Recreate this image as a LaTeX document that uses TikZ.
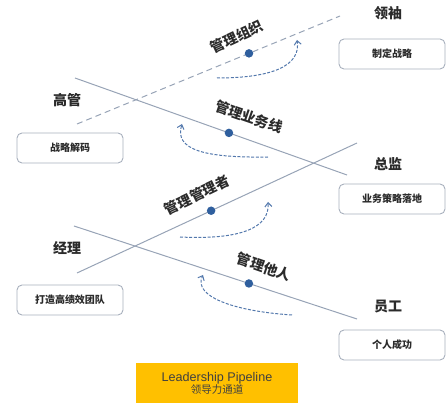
\documentclass[tikz,border=0pt]{standalone}
\usepackage{fontspec}
\setmainfont{Liberation Sans}
\newfontfamily\cjk{Noto Sans CJK SC}
\usetikzlibrary{arrows.meta}
\definecolor{linec}{HTML}{97A3B6}
\definecolor{dotc}{HTML}{2F5F9E}
\definecolor{arrc}{HTML}{5378AC}
\definecolor{boxc}{HTML}{A8B0BD}
\definecolor{txtc}{HTML}{2B2B2B}
\definecolor{goldc}{HTML}{FFC000}
\begin{document}
\begin{tikzpicture}[x=1pt,y=-1pt,
 lvl/.style={font=\cjk\bfseries\fontsize{14}{16}\selectfont, text=txtc, inner sep=0pt},
 tag/.style={font=\cjk\bfseries\fontsize{14}{16}\selectfont, text=txtc, inner sep=0pt},
 role/.style={draw=boxc, line width=0.9pt, rounded corners=5pt, minimum width=106pt, minimum height=30pt, font=\cjk\bfseries\fontsize{10}{12}\selectfont, text=txtc, fill=white},
 pipe/.style={draw=linec, line width=1pt},
 dot/.style={circle, fill=dotc, minimum size=8.5pt, inner sep=0pt},
 loop/.style={draw=arrc, line width=1pt, dash pattern=on 3pt off 1.6pt, -{Straight Barb[length=4pt,width=7pt]}}
]
\useasboundingbox (0,0) rectangle (448,403);

% pipeline lines
\coordinate (a1) at (77,124);  \coordinate (b1) at (340,16);
\coordinate (a2) at (75,78);   \coordinate (b2) at (347,175);
\coordinate (a3) at (77,273);  \coordinate (b3) at (357,143);
\coordinate (a4) at (74,226);  \coordinate (b4) at (357,319);

\draw[pipe, dash pattern=on 6pt off 4pt] (a1) -- (b1);
\draw[pipe] (a2) -- (b2);
\draw[pipe] (a3) -- (b3);
\draw[pipe] (a4) -- (b4);

\path (a1) -- (b1) node[dot, pos=0.654] (d1) {};
\path (a2) -- (b2) node[dot, pos=0.566] (d2) {};
\path (a3) -- (b3) node[dot, pos=0.479] (d3) {};
\path (a4) -- (b4) node[dot, pos=0.618] (d4) {};

% turn labels
\node[tag, rotate=25]  (t1) at (237,37)  {管理组织};
\node[tag, rotate=-19] (t2) at (249,117) {管理业务线};
\node[tag, rotate=26]  (t3) at (197,195) {管理管理者};
\node[tag, rotate=-19] (t4) at (264,267) {管理他人};

% curved dashed arrows
\coordinate (s1) at (217,78);  \coordinate (e1) at (297,40);
\coordinate (s2) at (268,157); \coordinate (e2) at (182,124);
\coordinate (s3) at (180,237); \coordinate (e3) at (268,202);
\coordinate (s4) at (292,315); \coordinate (e4) at (203,275);
\draw[loop] (s1) .. controls (272,78) and (301,66) .. (e1);
\draw[loop] (s2) .. controls (205,158) and (174,150) .. (e2);
\draw[loop] (s3) .. controls (240,240) and (270,228) .. (e3);
\draw[loop] (s4) .. controls (232,311) and (193,296) .. (e4);

% level names
\node[lvl] (l1) at (388,13)  {领袖};
\node[lvl] (l2) at (67,100)  {高管};
\node[lvl] (l3) at (388,164) {总监};
\node[lvl] (l4) at (67,248)  {经理};
\node[lvl] (l5) at (388,307) {员工};

% role boxes
\node[role] (r1) at (392,54)  {制定战略};
\node[role] (r2) at (70,148)  {战略解码};
\node[role] (r3) at (392,199) {业务策略落地};
\node[role] (r4) at (70,300)  {打造高绩效团队};
\node[role] (r5) at (392,345) {个人成功};

% title box
\node[fill=goldc, minimum width=162pt, minimum height=40pt, inner sep=0pt, align=center,
      text=black!75, font=\fontsize{12.6}{13}\selectfont] (title) at (217,383)
  {Leadership Pipeline\\[-1pt]{\cjk\fontsize{10.5}{12}\selectfont 领导力通道}};
\end{tikzpicture}
\end{document}
